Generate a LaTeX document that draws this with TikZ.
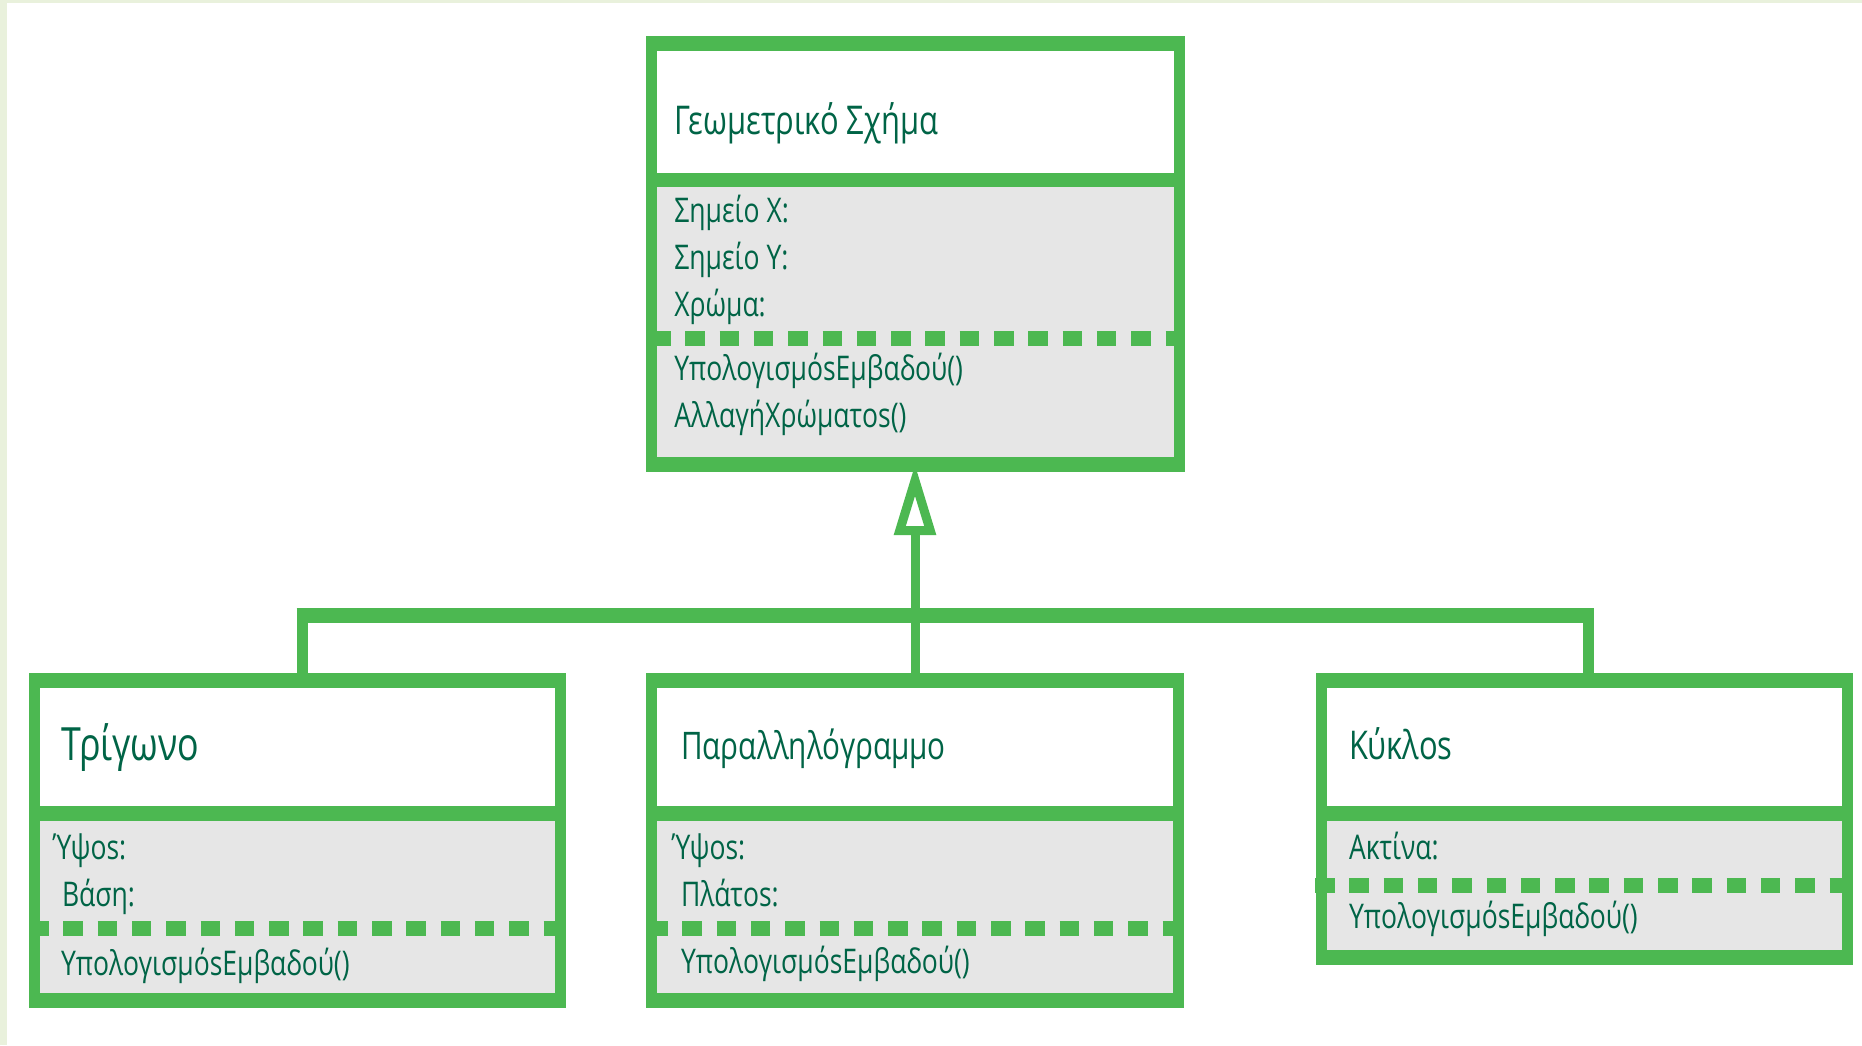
\documentclass[tikz,border=0pt]{standalone}
\usepackage{fontspec}
\newfontfamily\umlfont[FakeStretch=0.78]{Open Sans}
\usetikzlibrary{arrows.meta}

\definecolor{umlgreen}{RGB}{76,184,81}
\definecolor{bodygray}{RGB}{230,230,230}
\definecolor{ink}{RGB}{0,100,70}
\definecolor{pale}{RGB}{233,241,220}

\tikzset{
  classbox/.style={rectangle, fill=umlgreen, draw=none, inner sep=0pt, outer sep=0pt},
  headfill/.style={fill=white},
  bodyfill/.style={fill=bodygray},
  sepline/.style={draw=umlgreen, line width=14.7pt, dash pattern=on 19.5pt off 14.8pt},
  txt/.style={anchor=base west, inner sep=0pt, outer sep=0pt, text=ink},
  bigtitle/.style={txt, font=\umlfont\fontsize{45.8}{46}\selectfont},
  title/.style={txt, font=\umlfont\fontsize{39.6}{40}\selectfont},
  midtitle/.style={txt, font=\umlfont\fontsize{38}{38}\selectfont},
  member/.style={txt, font=\umlfont\fontsize{34}{34}\selectfont},
  bus/.style={draw=umlgreen, line width=14.7pt},
  leg/.style={draw=umlgreen, line width=11pt},
  shaft/.style={draw=umlgreen, line width=9pt, shorten >=-8pt,
    -{Triangle[open, length=71pt, width=40pt]}},
}

% class frame: name, x1, y1, x2, y2, header band top, header band bottom,
% separator y, separator start x
\newcommand\umlclass[9]{%
  \node[classbox, minimum width={#4-#2}, minimum height={#5-#3}]
    (#1) at ({(#2+#4)/2},{(#3+#5)/2}) {};
  \fill[headfill] (#2+11,#3+15) rectangle (#4-11,#6);
  \fill[bodyfill] (#2+11,#7) rectangle (#4-11,#5-15);
  \draw[sepline] (#9,#8) -- (#4-11,#8);
}

\begin{document}
\begin{tikzpicture}[x=1pt,y=-1pt]
\useasboundingbox (0,0) rectangle (1862,1045);
\fill[white] (0,0) rectangle (1862,1045);
\fill[pale] (0,0) rectangle (7,1045);
\fill[pale] (0,0) rectangle (1862,3);

% classes
\umlclass{A}{646}{36}{1185}{472}{173.3}{186.7}{338.3}{651}
\umlclass{T}{29}{673}{566}{1008}{806}{820.7}{928.3}{29}
\umlclass{P}{646}{673}{1184}{1008}{806}{820.7}{928.5}{648}
\umlclass{C}{1316}{673}{1853}{965}{806}{820.7}{885.2}{1315}

% generalisation: the three subclasses join a common bus
\coordinate (bus) at (915,615.3);
\coordinate (legT) at ([xshift=4.5pt]T.north |- bus);
\coordinate (legC) at ([xshift=4pt]C.north |- bus);
\draw[leg] ([xshift=4.5pt]T.north) -- (legT);
\draw[leg] ([xshift=4pt]C.north) -- (legC);
\draw[bus, shorten <=-5.5pt, shorten >=-5.5pt] (legT) -- (legC);
\draw[shaft] (P.north) -- (P.north |- A.south);

% Γεωμετρικό Σχήμα
\node[title]  (tA)  at (674.3,134)   {Γεωμετρικό Σχήμα};
\node[member] (aA1) at (674.3,222.7) {Σημείο X:};
\node[member] (aA2) at (674.3,269.3) {Σημείο Y:};
\node[member] (aA3) at (674.3,316)   {Χρώμα:};
\node[member] (mA1) at (674.3,380)   {ΥπολογισμόsΕμβαδού()};
\node[member] (mA2) at (674.3,427.3) {ΑλλαγήΧρώματοs()};

% Τρίγωνο
\node[bigtitle] (tT)  at (61,760.3) {Τρίγωνο};
\node[member]   (aT1) at (53,859.3) {Ύψοs:};
\node[member]   (aT2) at (62,906)   {Βάση:};
\node[member]   (mT1) at (61,975)   {ΥπολογισμόsΕμβαδού()};

% Παραλληλόγραμμο
\node[midtitle] (tP)  at (681,759.3) {Παραλληλόγραμμο};
\node[member]   (aP1) at (672,859.3) {Ύψοs:};
\node[member]   (aP2) at (681,906)   {Πλάτοs:};
\node[member]   (mP1) at (681,973.3) {ΥπολογισμόsΕμβαδού()};

% Κύκλος
\node[title]  (tC)  at (1349,759.3) {Κύκλοs};
\node[member] (aC1) at (1349,859.3) {Ακτίνα:};
\node[member] (mC1) at (1349,928.3) {ΥπολογισμόsΕμβαδού()};
\end{tikzpicture}
\end{document}
